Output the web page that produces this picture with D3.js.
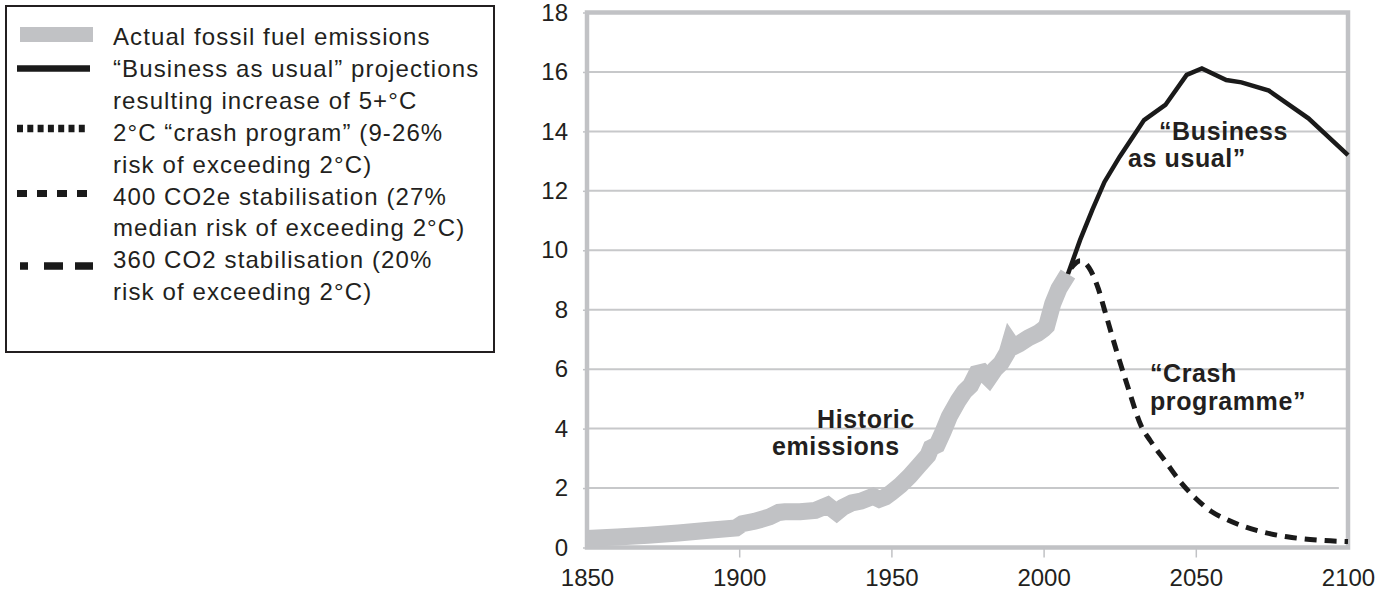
<!DOCTYPE html>
<html lang="en">
<head>
<meta charset="utf-8">
<title>Fossil fuel emissions and projections</title>
<script src="https://cdn.jsdelivr.net/npm/d3@7"></script>
<style>
  body { margin: 0; background: #fff; }
  text { font-family: "Liberation Sans", Arial, Helvetica, sans-serif; fill: #231f20; }
</style>
</head>
<body>
<script>
// Historic fossil fuel emissions (GtC)
var historicYears  = [1850, 1860, 1870, 1880, 1890, 1899, 1901, 1905, 1910, 1913, 1915, 1920, 1925, 1929, 1932, 1934, 1937, 1940, 1944, 1946, 1948, 1950, 1953, 1956, 1959, 1962, 1963, 1965, 1967, 1969, 1972, 1974, 1976, 1978, 1980, 1982, 1984, 1986, 1988, 1989, 1990, 1992, 1995, 1998, 2000, 2001, 2003, 2005, 2008];
var historicValues = [0.3, 0.35, 0.41, 0.49, 0.58, 0.66, 0.8, 0.88, 1.03, 1.18, 1.2, 1.2, 1.25, 1.42, 1.18, 1.35, 1.5, 1.56, 1.72, 1.62, 1.7, 1.85, 2.1, 2.4, 2.75, 3.1, 3.35, 3.45, 3.9, 4.4, 4.95, 5.25, 5.45, 5.85, 5.9, 5.7, 6.0, 6.2, 6.55, 6.9, 6.75, 6.85, 7.05, 7.2, 7.35, 7.45, 8.2, 8.7, 9.2];

// "Business as usual" projection
var bauYears  = [2008, 2012, 2016, 2020, 2025, 2033, 2040, 2047, 2052, 2060, 2065, 2074, 2087, 2100];
var bauValues = [9.2, 10.35, 11.36, 12.3, 13.15, 14.38, 14.89, 15.9, 16.12, 15.73, 15.65, 15.37, 14.44, 13.2];

// "Crash programme"
var crashYears  = [2009, 2012, 2015, 2018, 2020, 2024, 2028, 2032, 2035, 2040, 2045, 2050, 2055, 2060, 2066, 2072, 2080, 2090, 2100];
var crashValues = [9.4, 9.65, 9.4, 8.7, 8.0, 6.6, 5.3, 4.1, 3.6, 2.9, 2.2, 1.65, 1.22, 0.95, 0.7, 0.52, 0.36, 0.25, 0.2];

var xTicks = [1850, 1900, 1950, 2000, 2050, 2100];
var yTicks = [0, 2, 4, 6, 8, 10, 12, 14, 16, 18];

var legendLabels = [
  ["Actual fossil fuel emissions"],
  ["\u201cBusiness as usual\u201d projections", "resulting increase of 5+\u00b0C"],
  ["2\u00b0C \u201ccrash program\u201d (9-26%", "risk of exceeding 2\u00b0C)"],
  ["400 CO2e stabilisation (27%", "median risk of exceeding 2\u00b0C)"],
  ["360 CO2 stabilisation (20%", "risk of exceeding 2\u00b0C)"]
];

var w = 1395, h = 594;
var grey = "#c1c2c5";

var svg = d3.select("body").append("svg")
  .attr("width", w)
  .attr("height", h);

var xScale = d3.scaleLinear().domain([1850, 2100]).range([587, 1348]);
var yScale = d3.scaleLinear().domain([0, 18]).range([547.5, 12.5]);

//Gridlines
svg.append("g").selectAll("line")
  .data(yTicks.slice(1, -1))
  .enter().append("line")
  .attr("x1", xScale(1850))
  .attr("x2", function(d) { return d === 2 ? xScale(2097) : xScale(2100); })
  .attr("y1", function(d) { return yScale(d); })
  .attr("y2", function(d) { return yScale(d); })
  .attr("stroke", "#c7c8ca")
  .attr("stroke-width", 2);

//Axes
var xAxis = svg.append("g")
  .attr("transform", "translate(0," + yScale(0) + ")")
  .call(d3.axisBottom(xScale).tickValues(xTicks).tickSize(10).tickPadding(11).tickFormat(d3.format("d")));
var yAxis = svg.append("g")
  .attr("transform", "translate(" + xScale(1850) + ",0)")
  .call(d3.axisLeft(yScale).tickValues(yTicks).tickSize(4).tickPadding(15));

[xAxis, yAxis].forEach(function(a) {
  a.select(".domain").remove();
  a.selectAll("line").attr("stroke", grey).attr("stroke-width", 1.5);
  a.selectAll("text").attr("font-size", "24px").style("fill", "#231f20")
    .attr("font-family", "'Liberation Sans', Arial, sans-serif");
});
xAxis.selectAll(".tick").filter(function(d) { return d === 1850 || d === 2100; })
  .select("line").remove();

//Frame
svg.append("rect")
  .attr("x", xScale(1850))
  .attr("y", yScale(18))
  .attr("width", xScale(2100) - xScale(1850))
  .attr("height", yScale(0) - yScale(18))
  .attr("fill", "none")
  .attr("stroke", grey)
  .attr("stroke-width", 4.5);

var historic = historicYears.map(function(y, i) { return [y, historicValues[i]]; });
var bau = bauYears.map(function(y, i) { return [y, bauValues[i]]; });
var crash = crashYears.map(function(y, i) { return [y, crashValues[i]]; });

var line = d3.line()
  .x(function(d) { return xScale(d[0]); })
  .y(function(d) { return yScale(d[1]); });

//Historic band, thick grey
svg.append("path")
  .attr("d", line(historic))
  .attr("fill", "none")
  .attr("stroke", grey)
  .attr("stroke-width", 17)
  .attr("stroke-linejoin", "miter")
  .attr("stroke-miterlimit", 3);

svg.append("path")
  .attr("d", line(bau))
  .attr("fill", "none")
  .attr("stroke", "#1a1a1a")
  .attr("stroke-width", 4.5);

svg.append("path")
  .attr("d", line.curve(d3.curveMonotoneX)(crash))
  .attr("fill", "none")
  .attr("stroke", "#1a1a1a")
  .attr("stroke-width", 5)
  .attr("stroke-dasharray", "12,8");

//Annotations
var notes = [
  { x: 817, y: 428, t: "Historic" },
  { x: 772, y: 455, t: "emissions" },
  { x: 1159, y: 140, t: "\u201cBusiness" },
  { x: 1128, y: 167, t: "as usual\u201d" },
  { x: 1150, y: 382, t: "\u201cCrash" },
  { x: 1150, y: 410, t: "programme\u201d" }
];
svg.selectAll("text.note")
  .data(notes)
  .enter().append("text")
  .attr("class", "note")
  .attr("x", function(d) { return d.x; })
  .attr("y", function(d) { return d.y; })
  .attr("font-size", "25px")
  .attr("font-weight", "bold")
  .attr("letter-spacing", "0.6px")
  .text(function(d) { return d.t; });

//Legend
var legend = svg.append("g");
legend.append("rect")
  .attr("x", 6).attr("y", 6)
  .attr("width", 488).attr("height", 346)
  .attr("fill", "#fff")
  .attr("stroke", "#231f20")
  .attr("stroke-width", 2);

var symbols = [
  { y: 34.5, color: grey, width: 15, dash: null, x1: 20, x2: 93 },
  { y: 68.5, color: "#1a1a1a", width: 6.5, dash: null, x1: 17, x2: 90 },
  { y: 128.5, color: "#1a1a1a", width: 7.5, dash: "6,4.3", x1: 17, x2: 88 },
  { y: 193.5, color: "#1a1a1a", width: 7, dash: "10,10", x1: 17, x2: 90 },
  { y: 266, color: "#1a1a1a", width: 7.5, dash: "8,16,19,12,19", x1: 20, x2: 93 }
];
legend.selectAll("line")
  .data(symbols)
  .enter().append("line")
  .attr("x1", function(d) { return d.x1; })
  .attr("x2", function(d) { return d.x2; })
  .attr("y1", function(d) { return d.y; })
  .attr("y2", function(d) { return d.y; })
  .attr("stroke", function(d) { return d.color; })
  .attr("stroke-width", function(d) { return d.width; })
  .attr("stroke-dasharray", function(d) { return d.dash; });

var flat = [];
legendLabels.forEach(function(lines) { lines.forEach(function(l) { flat.push(l); }); });
legend.selectAll("text")
  .data(flat)
  .enter().append("text")
  .attr("x", 113)
  .attr("y", function(d, i) { return 45 + i * 31.9; })
  .attr("font-size", "24px")
  .attr("letter-spacing", "1.1px")
  .text(function(d) { return d; });
</script>
</body>
</html>
